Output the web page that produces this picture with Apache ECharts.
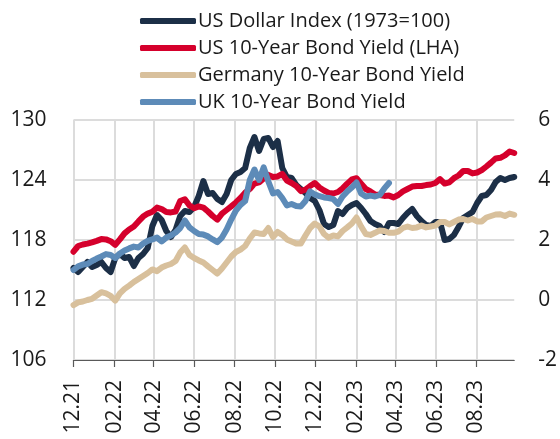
<!DOCTYPE html>
<html><head><meta charset="utf-8">
<script src="https://cdn.jsdelivr.net/npm/echarts@6/dist/echarts.min.js"></script>
<style>html,body{margin:0;padding:0;background:#fff}#c{width:560px;height:439px}</style>
</head><body><div id="c"></div>
<script>
const dates = [
'2021-12-01','2021-12-08','2021-12-15','2021-12-22','2021-12-29','2022-01-05','2022-01-12','2022-01-19','2022-01-26','2022-02-02',
'2022-02-09','2022-02-16','2022-02-23','2022-03-02','2022-03-09','2022-03-16','2022-03-23','2022-03-30','2022-04-06','2022-04-13',
'2022-04-20','2022-04-27','2022-05-04','2022-05-11','2022-05-18','2022-05-25','2022-06-01','2022-06-08','2022-06-15','2022-06-22',
'2022-06-29','2022-07-06','2022-07-13','2022-07-20','2022-07-27','2022-08-03','2022-08-10','2022-08-17','2022-08-24','2022-08-31',
'2022-09-07','2022-09-14','2022-09-21','2022-09-28','2022-10-05','2022-10-12','2022-10-19','2022-10-26','2022-11-02','2022-11-09',
'2022-11-16','2022-11-23','2022-11-30','2022-12-07','2022-12-14','2022-12-21','2022-12-28','2023-01-04','2023-01-11','2023-01-18',
'2023-01-25','2023-02-01','2023-02-08','2023-02-15','2023-02-22','2023-03-01','2023-03-08','2023-03-15','2023-03-22','2023-03-29',
'2023-04-05','2023-04-12','2023-04-19','2023-04-26','2023-05-03','2023-05-10','2023-05-17','2023-05-24','2023-05-31','2023-06-07',
'2023-06-14','2023-06-21','2023-06-28','2023-07-05','2023-07-12','2023-07-19','2023-07-26','2023-08-02','2023-08-09','2023-08-16',
'2023-08-23','2023-08-30','2023-09-06','2023-09-13','2023-09-20','2023-09-27'];

// US Dollar Index (left axis)
const usDollarIndex = [
115.2,114.8,115.3,115.8,115.3,115.5,115.8,115.2,114.8,116.2,
116.6,116.2,116.3,115.4,116.2,116.6,117.2,119.4,120.5,120.0,
118.9,118.3,119.0,120.4,120.9,120.8,121.3,122.4,123.9,122.6,
122.7,122.1,121.8,122.6,124.0,124.6,124.8,125.2,127.2,128.3,
126.9,128.1,128.2,127.3,127.9,125.2,124.3,124.2,123.5,123.1,
122.7,122.2,121.9,121.0,119.6,119.3,119.5,120.9,120.6,121.2,
121.5,121.7,121.2,120.6,119.9,119.6,119.4,118.8,119.7,119.7,
119.6,120.2,120.7,121.1,120.4,119.9,119.5,119.4,119.8,119.8,
118.0,118.1,118.5,119.3,120.2,120.5,120.8,121.7,122.4,122.5,
123.0,123.8,124.2,124.0,124.2,124.3];

// US 10-Year Bond Yield (right axis)
const us10y = [
1.61,1.80,1.85,1.88,1.92,1.97,2.03,2.02,1.96,1.84,
2.02,2.22,2.35,2.45,2.62,2.78,2.88,2.94,3.08,3.03,
2.93,2.92,2.95,3.30,3.36,3.15,3.06,3.12,3.08,2.95,
2.80,2.68,2.88,3.00,3.12,3.25,3.40,3.58,3.70,3.88,
3.92,4.05,4.17,4.10,4.12,4.20,3.98,3.90,3.80,3.63,
3.68,3.80,3.90,3.75,3.65,3.57,3.55,3.60,3.72,3.88,
4.02,4.06,3.88,3.70,3.62,3.52,3.50,3.47,3.48,3.42,
3.50,3.62,3.70,3.78,3.80,3.80,3.83,3.85,3.90,4.03,
3.88,3.92,4.06,4.15,4.30,4.30,4.22,4.25,4.33,4.45,
4.58,4.72,4.74,4.82,4.95,4.90];

// Germany 10-Year Bond Yield (right axis)
const germany10y = [
-0.17,-0.08,-0.05,0.00,0.04,0.15,0.26,0.22,0.14,-0.02,
0.22,0.37,0.48,0.60,0.70,0.80,0.90,1.02,0.96,1.08,
1.15,1.20,1.30,1.58,1.75,1.50,1.40,1.32,1.25,1.12,
1.00,0.88,1.05,1.25,1.45,1.60,1.68,1.80,2.05,2.25,
2.22,2.20,2.40,2.10,2.27,2.17,2.02,1.95,1.88,1.88,
2.15,2.40,2.55,2.45,2.20,2.08,2.15,2.12,2.30,2.42,
2.55,2.75,2.45,2.20,2.17,2.24,2.32,2.30,2.24,2.24,
2.28,2.40,2.45,2.40,2.42,2.48,2.42,2.45,2.48,2.60,
2.60,2.52,2.60,2.68,2.70,2.65,2.70,2.62,2.62,2.75,
2.80,2.85,2.86,2.80,2.88,2.84];

// UK 10-Year Bond Yield (right axis) - series ends in spring 2023
const uk10y = [
1.00,1.12,1.18,1.20,1.30,1.38,1.45,1.53,1.50,1.40,
1.55,1.65,1.72,1.78,1.75,1.88,1.97,2.02,2.08,1.95,
2.08,2.15,2.25,2.40,2.65,2.42,2.30,2.20,2.18,2.12,
2.02,1.93,2.08,2.35,2.68,2.98,3.17,3.30,4.00,4.35,
4.00,4.42,3.95,3.55,3.60,3.40,3.15,3.20,3.13,3.12,
3.30,3.62,3.52,3.46,3.42,3.40,3.36,3.20,3.45,3.62,
3.75,3.92,3.55,3.45,3.48,3.45,3.50,3.72,3.90];

const xTickDates = ['2021-12-01','2022-02-01','2022-04-01','2022-06-01','2022-08-01','2022-10-01',
  '2022-12-01','2023-02-01','2023-04-01','2023-06-01','2023-08-01'];
const xRange = ['2021-12-01','2023-09-27'];
const leftAxisTicks = [106,112,118,124,130];
const rightAxisTicks = [-2,0,2,4,6];
const seriesNames = ['US Dollar Index (1973=100)','US 10-Year Bond Yield (LHA)','Germany 10-Year Bond Yield','UK 10-Year Bond Yield'];

function ts(s){const p=s.split('-').map(Number);return new Date(p[0],p[1]-1,p[2]).getTime();}
function pairs(vals){return vals.map((v,i)=>[ts(dates[i]),v]);}
function pad(n){return (n<10?'0':'')+n;}

const FONT = 'Open Sans';
const TXT = '#1a1a1a';
const colors = ['#1c2f47','#d5002c','#d8c09c','#5d8bb8'];
const xTicks = xTickDates.map(ts);

const chart = echarts.init(document.getElementById('c'), null, {renderer:'canvas'});
chart.setOption({
  animation:false,
  backgroundColor:'#fff',
  color: colors,
  textStyle:{fontFamily:FONT},
  legend:{
    orient:'vertical', left:135, top:5,
    itemWidth:56, itemHeight:6, itemGap:5,
    icon:'roundRect',
    textStyle:{fontFamily:FONT, fontSize:20, color:TXT, lineHeight:22, padding:[0,0,0,-3]},
    data:seriesNames
  },
  grid:{left:73.5, right:45.5, top:120, bottom:79, containLabel:false},
  xAxis:{
    type:'value',
    min:ts(xRange[0]), max:ts(xRange[1]),
    axisLine:{show:true, onZero:false, lineStyle:{color:'#595959', width:1.2}},
    axisTick:{show:true, length:7, lineStyle:{color:'#595959', width:1.2}, customValues:xTicks},
    axisLabel:{
      customValues:xTicks,
      rotate:90, margin:20, fontFamily:FONT, fontSize:21, color:TXT,
      formatter:function(v){const d=new Date(v);return pad(d.getMonth()+1)+'.'+pad(d.getFullYear()%100);}
    },
    splitLine:{show:true, lineStyle:{color:'#dcdcdc', width:2}}
  },
  yAxis:[
    {type:'value', min:leftAxisTicks[0], max:leftAxisTicks[leftAxisTicks.length-1], interval:6, position:'left',
     axisLine:{show:false}, axisTick:{show:false},
     axisLabel:{margin:27, fontFamily:FONT, fontSize:21, color:TXT},
     splitLine:{show:true, lineStyle:{color:'#dcdcdc', width:2}}},
    {type:'value', min:rightAxisTicks[0], max:rightAxisTicks[rightAxisTicks.length-1], interval:2, position:'right',
     axisLine:{show:false}, axisTick:{show:false},
     axisLabel:{margin:24, fontFamily:FONT, fontSize:21, color:TXT},
     splitLine:{show:false}}
  ],
  series:[
    {name:seriesNames[0], type:'line', yAxisIndex:0, data:pairs(usDollarIndex), showSymbol:false, symbol:'none',
     lineStyle:{width:6, color:colors[0], join:'round', cap:'round'}, itemStyle:{color:colors[0]}},
    {name:seriesNames[1], type:'line', yAxisIndex:1, data:pairs(us10y), showSymbol:false, symbol:'none',
     lineStyle:{width:6, color:colors[1], join:'round', cap:'round'}, itemStyle:{color:colors[1]}},
    {name:seriesNames[2], type:'line', yAxisIndex:1, data:pairs(germany10y), showSymbol:false, symbol:'none',
     lineStyle:{width:6, color:colors[2], join:'round', cap:'round'}, itemStyle:{color:colors[2]}},
    {name:seriesNames[3], type:'line', yAxisIndex:1, data:pairs(uk10y), showSymbol:false, symbol:'none',
     lineStyle:{width:6, color:colors[3], join:'round', cap:'round'}, itemStyle:{color:colors[3]}}
  ]
});
</script>
</body></html>
